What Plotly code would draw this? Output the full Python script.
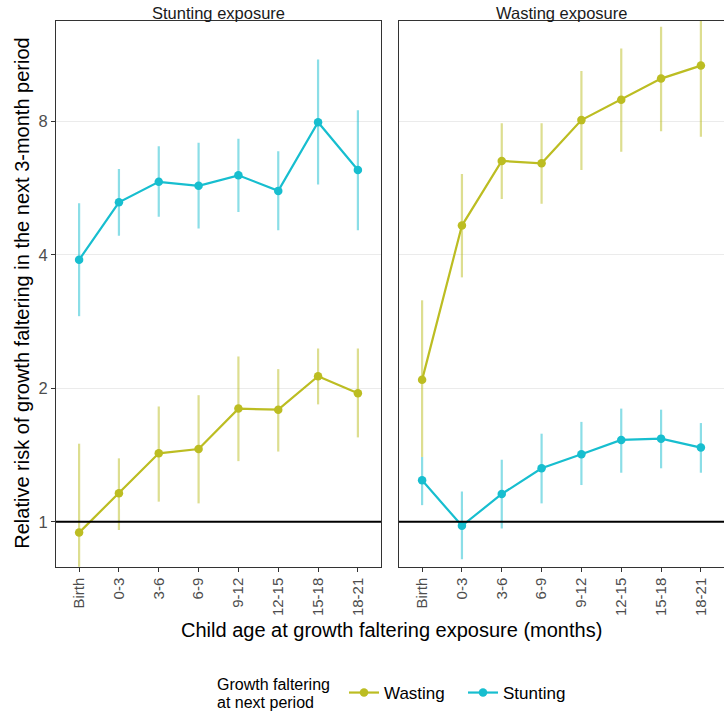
import plotly.graph_objects as go

ages = ["Birth", "0-3", "3-6", "6-9", "9-12", "12-15", "15-18", "18-21"]

# Panel 1: Stunting exposure
stunt_exp_wasting_est = [0.945, 1.159, 1.427, 1.459, 1.80, 1.79, 2.13, 1.95]
stunt_exp_wasting_lo = [0.74, 0.958, 1.11, 1.10, 1.37, 1.44, 1.84, 1.55]
stunt_exp_wasting_hi = [1.50, 1.39, 1.82, 1.93, 2.36, 2.21, 2.46, 2.46]
stunt_exp_stunting_est = [3.90, 5.26, 5.85, 5.73, 6.05, 5.58, 7.97, 6.22]
stunt_exp_stunting_lo = [2.91, 4.42, 4.88, 4.59, 5.00, 4.55, 5.77, 4.55]
stunt_exp_stunting_hi = [5.23, 6.25, 7.04, 7.17, 7.32, 6.86, 11.05, 8.48]

# Panel 2: Wasting exposure
waste_exp_wasting_est = [2.09, 4.66, 6.52, 6.44, 8.06, 8.96, 10.0, 10.7]
waste_exp_wasting_lo = [1.40, 3.56, 5.35, 5.22, 6.22, 6.84, 7.61, 7.39]
waste_exp_wasting_hi = [3.16, 6.09, 7.93, 7.93, 10.4, 11.7, 13.1, 14.5]
waste_exp_stunting_est = [1.24, 0.979, 1.155, 1.32, 1.42, 1.53, 1.54, 1.47]
waste_exp_stunting_lo = [1.09, 0.823, 0.966, 1.10, 1.21, 1.29, 1.32, 1.29]
waste_exp_stunting_hi = [1.40, 1.17, 1.38, 1.58, 1.68, 1.80, 1.79, 1.67]

panel_titles = ["Stunting exposure", "Wasting exposure"]
y_ticks = [1, 2, 4, 8]
y_ticktext = ["1", "2", "4", "8"]
legend_title_lines = ["Growth faltering", "at next period"]

OLIVE = "#BCBD22"
CYAN = "#17BECF"
OLIVE_CI = "rgba(188,189,34,0.5)"
CYAN_CI = "rgba(23,190,207,0.5)"
FONT = "Liberation Sans, Arial, Helvetica, sans-serif"

W, H = 724, 711

fig = go.Figure()


def add_series(est, lo, hi, color, ci_color, name, xa, ya, showlegend):
    fig.add_trace(go.Scatter(
        x=ages, y=est, mode="lines+markers", name=name,
        legendgroup=name, showlegend=showlegend,
        line=dict(color=color, width=2.2),
        marker=dict(color=color, size=8.5),
        error_y=dict(type="data", symmetric=False,
                     array=[h - e for h, e in zip(hi, est)],
                     arrayminus=[e - l for e, l in zip(est, lo)],
                     color=ci_color, thickness=2.2, width=0),
        xaxis=xa, yaxis=ya,
    ))


add_series(stunt_exp_wasting_est, stunt_exp_wasting_lo, stunt_exp_wasting_hi,
           OLIVE, OLIVE_CI, "Wasting", "x", "y", True)
add_series(stunt_exp_stunting_est, stunt_exp_stunting_lo, stunt_exp_stunting_hi,
           CYAN, CYAN_CI, "Stunting", "x", "y", True)
add_series(waste_exp_wasting_est, waste_exp_wasting_lo, waste_exp_wasting_hi,
           OLIVE, OLIVE_CI, "Wasting", "x2", "y2", False)
add_series(waste_exp_stunting_est, waste_exp_stunting_lo, waste_exp_stunting_hi,
           CYAN, CYAN_CI, "Stunting", "x2", "y2", False)

left_dom = [56 / W, 381 / W]
right_dom = [399 / W, 1.0]
y_dom = [1 - 566.7 / H, 1 - 20.7 / H]
y_range = [-0.1015, 1.1307]

xcommon = dict(
    type="category", categoryorder="array", categoryarray=ages,
    range=[-0.58, 7.58], showgrid=False, zeroline=False, automargin=False,
    showline=True, linecolor="#333333", linewidth=1,
    ticks="outside", ticklen=4, tickcolor="#333333", tickwidth=1,
    tickangle=-90, tickfont=dict(size=15, color="#4D4D4D", family=FONT),
)
ycommon = dict(
    type="log", range=y_range, tickmode="array", tickvals=y_ticks,
    ticktext=y_ticktext, showgrid=True, gridcolor="#EBEBEB", gridwidth=1.2,
    zeroline=False, showline=True, linecolor="#333333", linewidth=1,
    automargin=False,
)

fig.update_layout(
    width=W, height=H,
    margin=dict(l=0, r=0, t=0, b=0, autoexpand=False),
    paper_bgcolor="white", plot_bgcolor="white",
    font=dict(family=FONT, color="black"),
    xaxis=dict(domain=left_dom, anchor="y", mirror=True, **xcommon),
    xaxis2=dict(domain=right_dom, anchor="y2", mirror=True, **xcommon),
    yaxis=dict(domain=y_dom, anchor="x", mirror=True,
               ticks="outside", ticklen=4, tickcolor="#333333",
               tickfont=dict(size=16.5, color="#4D4D4D", family=FONT), **ycommon),
    yaxis2=dict(domain=y_dom, anchor="x2", mirror=False,
                showticklabels=False, ticks="", **ycommon),
    legend=dict(
        orientation="h", x=344 / W, xanchor="left", y=1 - 693 / H, yanchor="middle",
        font=dict(size=17, family=FONT), entrywidth=74,
        bgcolor="rgba(0,0,0,0)", borderwidth=0,
    ),
    showlegend=True,
)

for xr, yr in [("x domain", "y"), ("x2 domain", "y2")]:
    fig.add_shape(type="line", xref=xr, yref=yr, x0=0, x1=1, y0=1, y1=1,
                  line=dict(color="black", width=2), layer="above")

strip_centers = [(56 + 381) / 2, 399 + 325 / 2]
for t, cx in zip(panel_titles, strip_centers):
    fig.add_annotation(text=t, xref="paper", yref="paper",
                       x=cx / W, y=1 - 13 / H, showarrow=False,
                       font=dict(size=16.5, family=FONT, color="#1A1A1A"),
                       xanchor="center", yanchor="middle")

for line, ly in zip(legend_title_lines, [684, 702]):
    fig.add_annotation(text=line, xref="paper", yref="paper",
                       x=216 / W, y=1 - ly / H, showarrow=False,
                       font=dict(size=16, family=FONT, color="black"),
                       xanchor="left", yanchor="middle", borderpad=0)

fig.add_annotation(text="Relative risk of growth faltering in the next 3-month period",
                   xref="paper", yref="paper", x=22 / W, y=1 - 293.7 / H,
                   textangle=-90, showarrow=False,
                   font=dict(size=20, family=FONT, color="black"),
                   xanchor="center", yanchor="middle")
fig.add_annotation(text="Child age at growth faltering exposure (months)",
                   xref="paper", yref="paper", x=392 / W, y=1 - 630 / H,
                   showarrow=False, font=dict(size=20, family=FONT, color="black"),
                   xanchor="center", yanchor="middle")

fig.write_html(
    "out.html",
    config={"displayModeBar": False},
    post_script="document.body.style.margin='0';document.body.style.overflow='hidden';",
)
